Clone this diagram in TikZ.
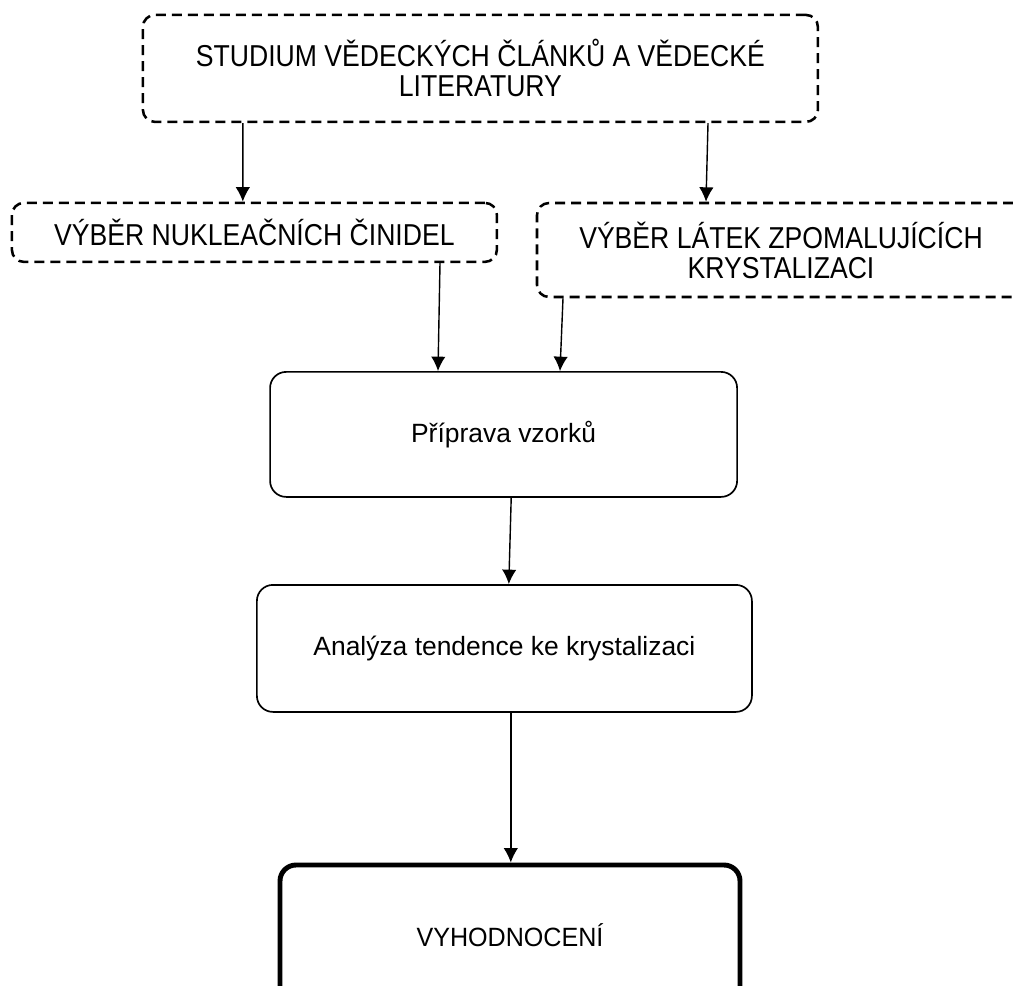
\documentclass[tikz,border=0pt]{standalone}
\usepackage{fontspec}
\setmainfont{Liberation Sans}
\newfontfamily\narrowfont[FakeStretch=0.88]{Liberation Sans}
\usetikzlibrary{arrows.meta}

\begin{document}
\begin{tikzpicture}[line join=round]
\tikzstyle{dashbox} = [draw, dash pattern=on 0.25cm off 0.15cm, line width=1.8pt, rounded corners=0.3cm, align=center, inner sep=0pt, font=\narrowfont\fontsize{21.5}{21.3}\selectfont]
\tikzstyle{solidbox} = [draw, line width=1.2pt, rounded corners=0.4cm, align=center, inner sep=0pt, font=\fontsize{18.8}{22}\selectfont]
\tikzstyle{arr} = [-{Latex[length=0.36cm,width=0.36cm]}, line width=1pt]
\useasboundingbox (0,0) rectangle (25.325,-24.625);
\clip (0,0) rectangle (25.325,-24.625);

\node[dashbox, minimum width=16.875cm, minimum height=2.675cm] (study) at (12.01,-1.71)
	{STUDIUM VĚDECKÝCH ČLÁNKŮ A VĚDECKÉ\\LITERATURY};
\node[dashbox, minimum width=12.125cm, minimum height=1.475cm] (nucl) at (6.36,-5.81)
	{VÝBĚR NUKLEAČNÍCH ČINIDEL};
\node[dashbox, minimum width=12.2cm, minimum height=2.35cm] (slow) at (19.525,-6.25)
	{VÝBĚR LÁTEK ZPOMALUJÍCÍCH\\KRYSTALIZACI};
\node[solidbox, minimum width=11.675cm, minimum height=3.125cm] (prep) at (12.59,-10.86)
	{Příprava vzorků};
\node[solidbox, minimum width=12.375cm, minimum height=3.175cm] (anal) at (12.61,-16.21)
	{Analýza tendence ke krystalizaci};
\node[solidbox, line width=3.5pt, minimum width=11.5cm, minimum height=3.5cm, font=\fontsize{18.8}{22}\selectfont\addfontfeature{FakeStretch=0.95}] (eval) at (12.75,-23.375)
	{VYHODNOCENÍ};

\draw[arr] ([xshift=-5.94cm]study.south) -- ([xshift=-0.29cm]nucl.north);
\draw[arr] ([xshift=5.69cm]study.south) -- ([xshift=-1.875cm]slow.north);
\draw[arr] ([xshift=4.64cm]nucl.south) -- ([xshift=-1.64cm]prep.north);
\draw[arr] ([xshift=-5.45cm]slow.south) -- ([xshift=1.41cm]prep.north);
\draw[arr] ([xshift=0.19cm]prep.south) -- ([xshift=0.11cm]anal.north);
\draw[arr] ([xshift=0.16cm]anal.south) -- ([xshift=0.02cm]eval.north);
\end{tikzpicture}
\end{document}
